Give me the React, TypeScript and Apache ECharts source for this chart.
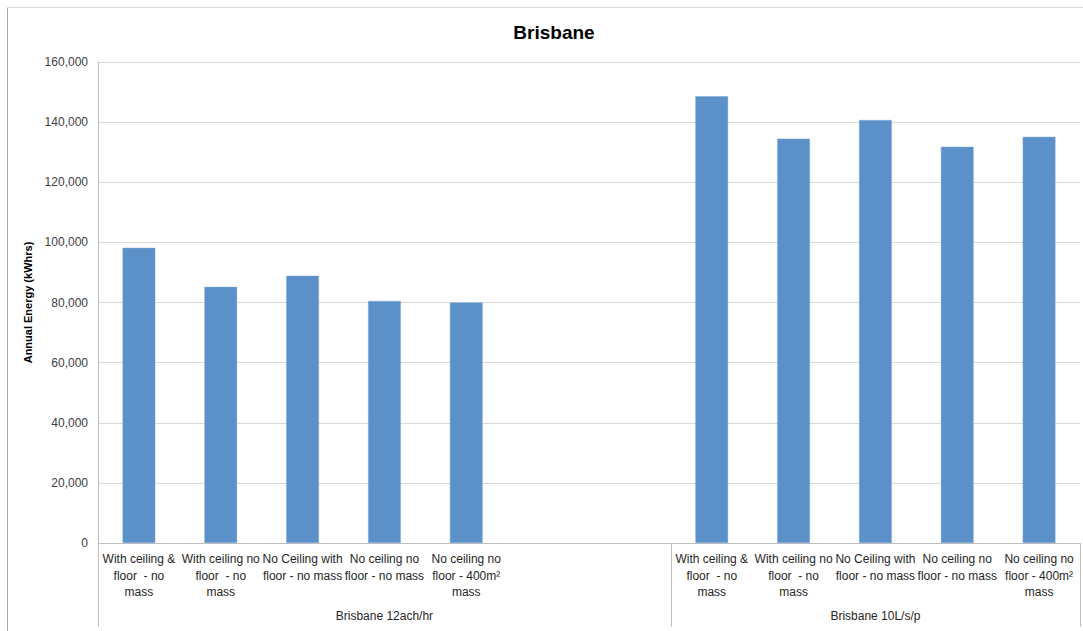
import React, { useEffect, useRef } from "react";
import * as echarts from "echarts";

// Inner categories (scenario per slot); slots 5 and 6 are empty spacers in the first group
const categories: string[] = [
  "With ceiling &\nfloor  - no\nmass",
  "With ceiling no\nfloor  - no\nmass",
  "No Ceiling with\nfloor - no mass",
  "No ceiling no\nfloor - no mass",
  "No ceiling no\nfloor - 400m²\nmass",
  "",
  "",
  "With ceiling &\nfloor  - no\nmass",
  "With ceiling no\nfloor  - no\nmass",
  "No Ceiling with\nfloor - no mass",
  "No ceiling no\nfloor - no mass",
  "No ceiling no\nfloor - 400m²\nmass",
];

// Outer group labels, placed at each group's centre slot
const groupLabels: string[] = [
  "", "", "", "Brisbane 12ach/hr", "", "", "",
  "", "", "Brisbane 10L/s/p", "", "",
];

// Slot indexes where each group starts
const groupStarts: number[] = [0, 7];

// Annual energy (kWhrs)
const energy: (number | null)[] = [
  98200, 85200, 88900, 80500, 80000, null, null,
  148600, 134500, 140700, 131800, 135100,
];

const yTicks = { min: 0, max: 160000, interval: 20000 };

export default function App() {
  const ref = useRef<HTMLDivElement>(null);

  useEffect(() => {
    if (!ref.current) return;
    const chart = echarts.init(ref.current, null, { renderer: "svg" });
    const font = "Liberation Sans, Arial, sans-serif";
    chart.setOption({
      animation: false,
      backgroundColor: "#ffffff",
      textStyle: { fontFamily: font },
      title: {
        text: "Brisbane",
        left: 549,
        top: 18,
        textAlign: "center",
        textStyle: { fontSize: 19, fontWeight: "bold", color: "#000000", fontFamily: font },
      },
      grid: { left: 98, right: 3, top: 62, bottom: 88, containLabel: false },
      xAxis: [
        {
          type: "category",
          data: categories,
          axisLine: { show: true, lineStyle: { color: "#BFBFBF", width: 1 } },
          axisTick: { show: false },
          axisLabel: {
            interval: 0,
            hideOverlap: false,
            fontSize: 12,
            lineHeight: 16.5,
            color: "#262626",
            margin: 8,
            align: "center",
          },
          splitLine: { show: false },
        },
        {
          type: "category",
          position: "bottom",
          data: groupLabels,
          axisLine: { show: false },
          axisTick: {
            show: true,
            length: 84,
            interval: (index: number) => groupStarts.includes(index),
            lineStyle: { color: "#BFBFBF", width: 1 },
          },
          axisLabel: {
            interval: 0,
            hideOverlap: false,
            fontSize: 12,
            color: "#262626",
            margin: 67,
          },
          splitLine: { show: false },
        },
      ],
      yAxis: {
        type: "value",
        min: yTicks.min,
        max: yTicks.max,
        interval: yTicks.interval,
        name: "Annual Energy (kWhrs)",
        nameLocation: "middle",
        nameRotate: 90,
        nameGap: 65,
        nameTextStyle: { fontSize: 11, fontWeight: "bold", color: "#000000" },
        axisLine: { show: true, lineStyle: { color: "#BFBFBF", width: 1 } },
        axisTick: { show: false },
        axisLabel: {
          fontSize: 12,
          color: "#404040",
          margin: 10,
          formatter: (v: number) => v.toLocaleString("en-US"),
        },
        splitLine: { show: true, lineStyle: { color: "#D9D9D9", width: 1 } },
      },
      series: [
        {
          type: "bar",
          xAxisIndex: 0,
          data: energy,
          barCategoryGap: "60%",
          itemStyle: { color: "#5B91C8", borderColor: "#7FA9D6", borderWidth: 0.5 },
        },
      ],
      graphic: [
        {
          type: "line",
          shape: { x1: 7.5, y1: 7, x2: 7.5, y2: 631 },
          style: { stroke: "#A6A6A6", lineWidth: 1 },
          silent: true,
        },
        {
          type: "line",
          shape: { x1: 7, y1: 7.5, x2: 1083, y2: 7.5 },
          style: { stroke: "#D9D9D9", lineWidth: 1 },
          silent: true,
        },
      ],
    });
    return () => chart.dispose();
  }, []);

  return <div ref={ref} style={{ width: 1083, height: 631, position: "absolute", left: 0, top: 0 }} />;
}
